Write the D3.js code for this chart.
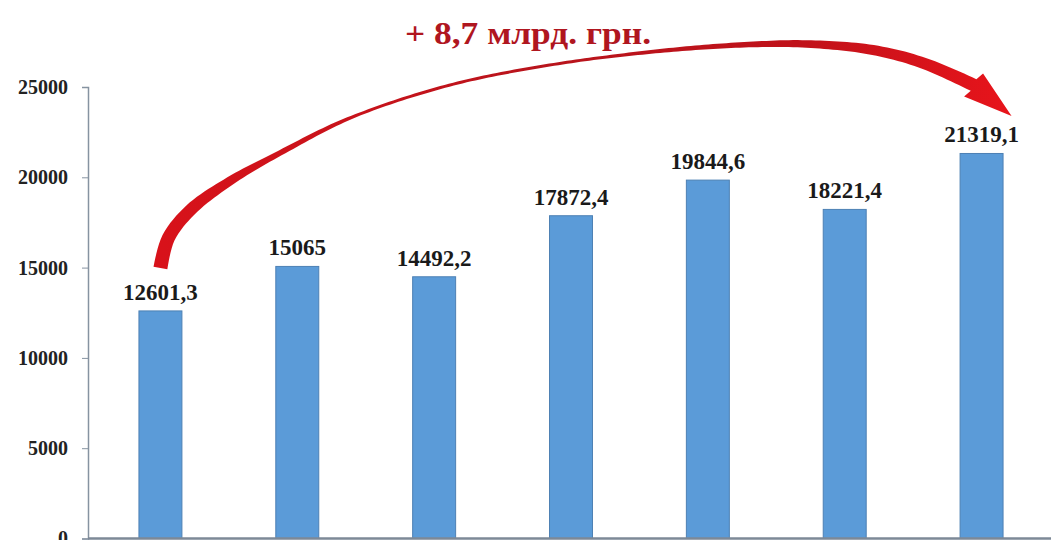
<!DOCTYPE html>
<html>
<head>
<meta charset="utf-8">
<script src="https://cdn.jsdelivr.net/npm/d3@7"></script>
<style>
  body { margin: 0; background: #fff; }
  svg { display: block; }
  .axis text { font-family: "Liberation Serif", "Times New Roman", serif; font-weight: bold; font-size: 20px; fill: #222; }
</style>
</head>
<body>
<svg id="chart" width="1051" height="540"></svg>
<script>
const categories = ["1", "2", "3", "4", "5", "6", "7"];
const values = [12601.3, 15065, 14492.2, 17872.4, 19844.6, 18221.4, 21319.1];
const valueLabels = ["12601,3", "15065", "14492,2", "17872,4", "19844,6", "18221,4", "21319,1"];
const yTicks = [0, 5000, 10000, 15000, 20000, 25000];
const growthLabel = "+ 8,7 млрд. грн.";

const svg = d3.select("#chart");

const x = d3.scaleBand()
  .domain(categories)
  .range([92, 1050])
  .paddingInner(0.686)
  .paddingOuter(0.343);

const y = d3.scaleLinear()
  .domain([0, 25000])
  .range([538.5, 87]);

// y axis
const yAxis = svg.append("g")
  .attr("class", "axis")
  .attr("transform", "translate(88,0)")
  .call(d3.axisLeft(y).tickValues(yTicks).tickSize(6).tickPadding(14).tickFormat(d3.format("d")));
yAxis.select(".domain").attr("stroke", "#8693a1").attr("stroke-width", 1.5);
yAxis.selectAll(".tick line").attr("stroke", "#8693a1");

// bars
svg.selectAll("rect.bar")
  .data(values)
  .enter()
  .append("rect")
  .attr("class", "bar")
  .attr("x", (d, i) => x(categories[i]))
  .attr("width", x.bandwidth())
  .attr("y", (d) => y(d))
  .attr("height", (d) => y(0) - y(d))
  .attr("fill", "#5b9bd8")
  .attr("stroke", "#4d80b4")
  .attr("stroke-width", 1);

// baseline
svg.append("line")
  .attr("x1", 88).attr("x2", 1051)
  .attr("y1", y(0)).attr("y2", y(0))
  .attr("stroke", "#7d8997")
  .attr("stroke-width", 2.5);

// value labels
svg.selectAll("text.val")
  .data(values)
  .enter()
  .append("text")
  .attr("class", "val")
  .attr("x", (d, i) => x(categories[i]) + x.bandwidth() / 2)
  .attr("y", (d) => y(d) - 11)
  .attr("text-anchor", "middle")
  .attr("font-family", "'Liberation Serif', 'Times New Roman', serif")
  .attr("font-weight", "bold")
  .attr("font-size", 23)
  .attr("fill", "#1a1a1a")
  .text((d, i) => valueLabels[i]);

// growth arrow from first bar to last bar
const first = x(categories[0]) + x.bandwidth() / 2;
const last = x(categories[6]) + x.bandwidth() / 2;
const guide = [
  [first, 268], [first + 8, 238], [first + 30, 210], [first + 68, 182],
  [280, 153], [350, 118], [450, 85], [550, 65], [650, 52], [740, 45],
  [807, 44], [873, 50], [923, 63], [last - 8, 85]
];
const tip = [last + 30, 116];

const grad = svg.append("defs").append("linearGradient")
  .attr("id", "arrowFill")
  .attr("gradientUnits", "userSpaceOnUse")
  .attr("x1", first).attr("x2", tip[0]).attr("y1", 0).attr("y2", 0);
grad.append("stop").attr("offset", 0).attr("stop-color", "#d8121a");
grad.append("stop").attr("offset", 0.45).attr("stop-color", "#b8141c");
grad.append("stop").attr("offset", 0.75).attr("stop-color", "#c0121a");
grad.append("stop").attr("offset", 1).attr("stop-color", "#e8141b");

const tmp = svg.append("path")
  .attr("d", d3.line().curve(d3.curveCatmullRom.alpha(0.5))(guide))
  .attr("fill", "none");
const node = tmp.node();
const total = node.getTotalLength();
const widthAt = d3.scaleLinear()
  .domain([0, 0.08, 0.18, 0.3, 0.58, 0.74, 0.88, 1])
  .range([14, 12, 6, 3, 3, 5.5, 10, 13]);

const leftSide = [];
const rightSide = [];
const n = 200;
for (let k = 0; k <= n; k++) {
  const t = k / n;
  const p = node.getPointAtLength(t * total);
  const q = node.getPointAtLength(Math.min(total, t * total + 2));
  const r = node.getPointAtLength(Math.max(0, t * total - 2));
  let dx = q.x - r.x, dy = q.y - r.y;
  const len = Math.hypot(dx, dy) || 1;
  dx /= len; dy /= len;
  const w = widthAt(t) / 2;
  leftSide.push([p.x + dy * w, p.y - dx * w]);
  rightSide.push([p.x - dy * w, p.y + dx * w]);
}
tmp.remove();

// arrow head
const end = guide[guide.length - 1];
let hx = tip[0] - end[0], hy = tip[1] - end[1];
const hl = Math.hypot(hx, hy);
hx /= hl; hy /= hl;
const hw = 15;
const head = [
  [end[0] + hy * hw, end[1] - hx * hw],
  tip,
  [end[0] - hy * hw, end[1] + hx * hw]
];

const shape = leftSide.concat(head, rightSide.reverse());
svg.append("path")
  .attr("d", d3.line()(shape) + "Z")
  .attr("fill", "url(#arrowFill)");

// growth label
svg.append("text")
  .attr("x", 528)
  .attr("y", 44)
  .attr("text-anchor", "middle")
  .attr("font-family", "'Liberation Serif', 'Times New Roman', serif")
  .attr("font-weight", "bold")
  .attr("font-size", 31)
  .attr("textLength", 246)
  .attr("lengthAdjust", "spacingAndGlyphs")
  .attr("fill", "#b0161f")
  .text(growthLabel);
</script>
</body>
</html>
